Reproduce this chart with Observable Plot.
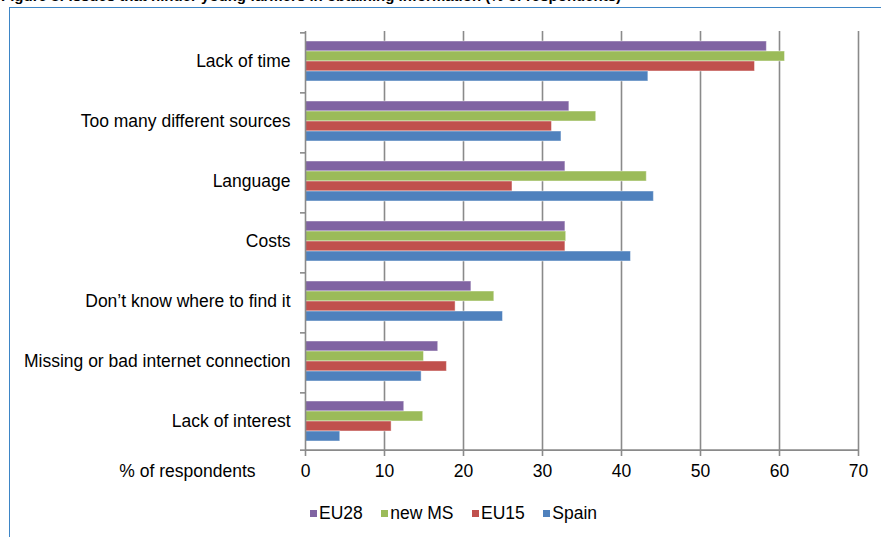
<!DOCTYPE html>
<html>
<head>
<meta charset="utf-8">
<script src="https://cdn.jsdelivr.net/npm/d3@7"></script>
<script src="https://cdn.jsdelivr.net/npm/@observablehq/plot@0.6"></script>
<style>
  html, body { margin: 0; padding: 0; background: #fff; }
  #wrap { position: relative; width: 881px; height: 537px; overflow: hidden; background: #fff;
          font-family: "Liberation Sans", Arial, sans-serif; }
  #title { position: absolute; left: 1px; top: -13.5px; font-weight: bold; font-size: 15px; white-space: nowrap; color: #000; }
  #box { position: absolute; left: 9px; top: 7px; width: 900px; height: 560px;
         border-left: 1.5px solid #3d85c6; border-top: 1.5px solid #3d85c6; }
  #chart { position: absolute; left: 0; top: 0; }
  #legend { position: absolute; top: 503px; left: 310px; display: flex; align-items: center; font-size: 17.5px; color: #000; }
  #legend .item { display: flex; align-items: center; margin-right: 18.5px; }
  #legend .sw { width: 7px; height: 7px; margin-right: 2px; }
</style>
</head>
<body>
<div id="wrap">
  <div id="title">Figure 8: Issues that hinder young farmers in obtaining information (% of respondents)</div>
  <div id="box"></div>
  <div id="chart"></div>
  <div id="legend"></div>
</div>
<script>
// ---- data ----
const categories = [
  "Lack of time",
  "Too many different sources",
  "Language",
  "Costs",
  "Don\u2019t know where to find it",
  "Missing or bad internet connection",
  "Lack of interest"
];
const seriesNames = ["EU28", "new MS", "EU15", "Spain"];
const seriesColors = ["#8064A2", "#9BBB59", "#C0504D", "#4F81BD"];
const eu28  = [58.4, 33.4, 32.9, 32.9, 21.0, 16.8, 12.5];
const newMS = [60.7, 36.8, 43.2, 33.0, 23.9, 15.0, 14.9];
const eu15  = [56.9, 31.2, 26.2, 32.9, 19.0, 17.9, 10.9];
const spain = [43.4, 32.4, 44.1, 41.2, 25.0, 14.7, 4.4];
const xTicks = [0, 10, 20, 30, 40, 50, 60, 70];
const xLabel = "% of respondents";

const seriesValues = [eu28, newMS, eu15, spain];
const rows = [];
categories.forEach((c, i) => {
  seriesNames.forEach((s, j) => rows.push({category: c, series: s, value: seriesValues[j][i]}));
});

// ---- layout ----
const W = 881, H = 490;
const mL = 305, mR = 23, mT = 30, mB = 38;
const yPadOuter = 0.74;
const facetH = (H - mT - mB) / categories.length;
const step = facetH / (seriesNames.length + 2 * yPadOuter);
const edgeOffset = step * (yPadOuter + 0.5);
const gridColor = "#8a8a8a";
const lastCat = categories[categories.length - 1];
const FS = 17.5;

const chart = Plot.plot({
  width: W,
  height: H,
  marginLeft: mL,
  marginRight: mR,
  marginTop: mT,
  marginBottom: mB,
  style: {fontFamily: "'Liberation Sans', Arial, sans-serif", fontSize: FS + "px", color: "#000", background: "transparent"},
  x: {domain: [0, 70]},
  y: {domain: seriesNames, paddingInner: 0, paddingOuter: yPadOuter, axis: null},
  fy: {domain: categories, padding: 0, label: null},
  color: {domain: seriesNames, range: seriesColors},
  marks: [
    Plot.ruleX(xTicks.filter(d => d > 0), {stroke: gridColor, strokeWidth: 1.6}),
    Plot.barX(rows, {
      fy: "category", y: "series", x: "value",
      fill: "series", stroke: "#ffffff", strokeOpacity: 0.45, strokeWidth: 1,
      insetTop: 0, insetBottom: 0
    }),
    Plot.ruleX([0], {stroke: gridColor, strokeWidth: 1.6}),
    // category boundary ticks on the left axis
    Plot.tickY(categories, {fy: d => d, y: () => seriesNames[0], dy: -edgeOffset,
      stroke: gridColor, strokeWidth: 1.6, insetLeft: -5, insetRight: W - mR - mL}),
    Plot.tickY([lastCat], {fy: d => d, y: () => seriesNames[seriesNames.length - 1], dy: edgeOffset,
      stroke: gridColor, strokeWidth: 1.6, insetLeft: -5, insetRight: W - mR - mL}),
    // bottom axis line
    Plot.tickY([lastCat], {fy: d => d, y: () => seriesNames[seriesNames.length - 1], dy: edgeOffset,
      stroke: gridColor, strokeWidth: 1.6}),
    Plot.axisX({ticks: xTicks, tickSize: 5, tickPadding: 8, stroke: gridColor, strokeWidth: 1.6,
      fill: "#000", fontSize: FS, label: null}),
    Plot.axisFy({anchor: "left", tickSize: 0, tickPadding: 15, fill: "#000", fontSize: FS, label: null}),
    Plot.text([xLabel], {fy: () => lastCat, frameAnchor: "bottom-left", textAnchor: "end",
      dx: -50, dy: 25, fill: "#000", fontSize: FS})
  ]
});
document.getElementById("chart").appendChild(chart);

// legend
const legend = document.getElementById("legend");
seriesNames.forEach((s, j) => {
  const item = document.createElement("div");
  item.className = "item";
  const sw = document.createElement("span");
  sw.className = "sw";
  sw.style.background = seriesColors[j];
  const t = document.createElement("span");
  t.textContent = s;
  item.appendChild(sw);
  item.appendChild(t);
  legend.appendChild(item);
});
</script>
</body>
</html>
